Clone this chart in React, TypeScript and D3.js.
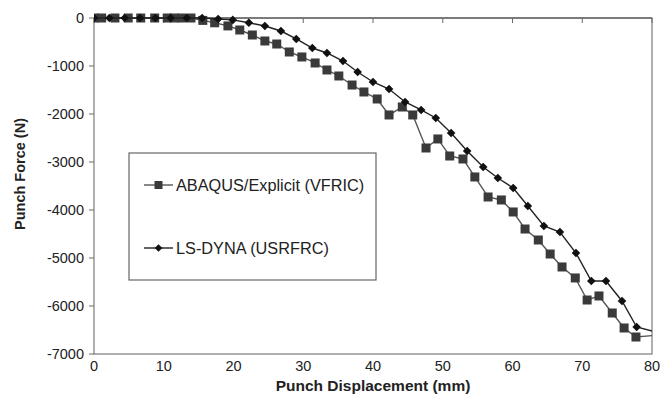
import React from "react";
import * as d3 from "d3";

// Punch displacement (mm) and punch force (N) for each solver
const abaqusX = [0, 1.1, 3.0, 4.9, 6.7, 8.7, 10.5, 11.5, 12.6, 13.9, 15.6, 17.3, 19.2, 20.9, 22.7, 24.5, 26.2, 28.0, 29.8, 31.7, 33.4, 35.1, 37.0, 38.7, 40.6, 42.3, 44.2, 45.7, 47.6, 49.3, 51.0, 52.9, 54.6, 56.5, 58.4, 60.1, 61.8, 63.7, 65.4, 67.1, 69.0, 70.7, 72.4, 74.3, 76.0, 77.7, 81.5];
const abaqusY = [0, 0, 0, 0, 0, 0, 0, 0, 0, 0, -50, -100, -165, -250, -354, -479, -542, -708, -812, -937, -1083, -1208, -1396, -1541, -1687, -2020, -1854, -2020, -2708, -2520, -2875, -2937, -3312, -3729, -3791, -4041, -4396, -4625, -4917, -5187, -5416, -5875, -5791, -6146, -6458, -6646, -6600];

const dynaX = [0, 2.2, 4.4, 6.6, 8.8, 11.0, 13.3, 15.5, 17.8, 19.9, 22.2, 24.5, 26.8, 29.0, 31.3, 33.4, 35.7, 37.8, 40.0, 42.3, 44.6, 46.9, 49.0, 51.2, 53.5, 55.8, 57.9, 60.1, 62.2, 64.5, 66.8, 69.1, 71.3, 73.4, 75.7, 77.8, 82.0];
const dynaY = [0, 0, 0, 0, 0, 0, 0, 0, -20, -40, -100, -167, -271, -437, -625, -729, -896, -1125, -1333, -1479, -1750, -1916, -2083, -2396, -2770, -3104, -3333, -3541, -3916, -4333, -4458, -4896, -5479, -5479, -5896, -6437, -6600];

const xTicks = [0, 10, 20, 30, 40, 50, 60, 70, 80];
const yTicks = [0, -1000, -2000, -3000, -4000, -5000, -6000, -7000];

const seriesNames = ["ABAQUS/Explicit (VFRIC)", "LS-DYNA (USRFRC)"];

const W = 666;
const H = 398;
const left = 94;
const right = 652;
const top = 18;
const bottom = 354;
const font = "'Liberation Sans', Arial, sans-serif";

export default function App() {
  const x = d3.scaleLinear().domain([0, 80]).range([left, right]);
  const y = d3.scaleLinear().domain([-7000, 0]).range([bottom, top]);

  const abaqus = abaqusX.map((v, i) => [v, abaqusY[i]] as [number, number]);
  const dyna = dynaX.map((v, i) => [v, dynaY[i]] as [number, number]);

  const line = d3
    .line<[number, number]>()
    .x((d) => x(d[0]))
    .y((d) => y(d[1]));

  const sq = 9;
  const dm = 4.3;
  const diamond = (cx: number, cy: number, r: number) =>
    `M${cx},${cy - r}L${cx + r},${cy}L${cx},${cy + r}L${cx - r},${cy}Z`;

  return (
    <svg
      width={W}
      height={H}
      style={{ position: "absolute", left: 0, top: 0, background: "#fff" }}
      fontFamily={font}
    >
      <defs>
        <clipPath id="plotClip">
          <rect x={left} y={top - 8} width={right - left} height={bottom - top + 8} />
        </clipPath>
      </defs>

      {/* plot frame */}
      <rect x={left} y={top} width={right - left} height={bottom - top} fill="none" stroke="#7a7a7a" strokeWidth={1.2} />

      {/* x axis along force = 0 */}
      <line x1={left} x2={right} y1={y(0)} y2={y(0)} stroke="#6a6a6a" strokeWidth={1.6} />
      {xTicks.map((t) => (
        <line key={"xt" + t} x1={x(t)} x2={x(t)} y1={y(0)} y2={y(0) + 5} stroke="#6a6a6a" strokeWidth={1} />
      ))}
      {xTicks.map((t) => (
        <text key={"xl" + t} x={x(t)} y={bottom + 17} textAnchor="middle" fontSize={14.5} fill="#222">
          {t}
        </text>
      ))}

      {/* y axis */}
      {yTicks.map((t) => (
        <line key={"yt" + t} x1={left - 5} x2={left} y1={y(t)} y2={y(t)} stroke="#6a6a6a" strokeWidth={1} />
      ))}
      {yTicks.map((t) => (
        <text key={"yl" + t} x={left - 10} y={y(t) + 5} textAnchor="end" fontSize={14.5} fill="#222">
          {t}
        </text>
      ))}

      <text
        transform={`translate(25,174) rotate(-90)`}
        textAnchor="middle"
        fontSize={14.5}
        fontWeight="bold"
        fill="#222"
      >
        Punch Force (N)
      </text>
      <text x={373} y={391} textAnchor="middle" fontSize={15.5} fontWeight="bold" fill="#222">
        Punch Displacement  (mm)
      </text>

      <g clipPath="url(#plotClip)">
        <path d={line(abaqus) ?? ""} fill="none" stroke="#555" strokeWidth={1.4} />
        {abaqus.map((d, i) => (
          <rect key={"a" + i} x={x(d[0]) - sq / 2} y={y(d[1]) - sq / 2} width={sq} height={sq} fill="#3a3a3a" />
        ))}
        <path d={line(dyna) ?? ""} fill="none" stroke="#222" strokeWidth={1.4} />
        {dyna.map((d, i) => (
          <path key={"d" + i} d={diamond(x(d[0]), y(d[1]), dm)} fill="#111" />
        ))}
      </g>

      {/* legend */}
      <rect x={129} y={153} width={247} height={127} fill="#fff" stroke="#666" strokeWidth={1.2} />
      <line x1={144} x2={173} y1={185} y2={185} stroke="#555" strokeWidth={1.4} />
      <rect x={158.5 - 4} y={185 - 4} width={8} height={8} fill="#3a3a3a" />
      <text x={176} y={191} fontSize={16.3} fill="#222">
        {seriesNames[0]}
      </text>
      <line x1={144} x2={173} y1={248} y2={248} stroke="#222" strokeWidth={1.4} />
      <path d={diamond(158.5, 248, 3.8)} fill="#111" />
      <text x={176} y={254} fontSize={16.3} fill="#222">
        {seriesNames[1]}
      </text>
    </svg>
  );
}
